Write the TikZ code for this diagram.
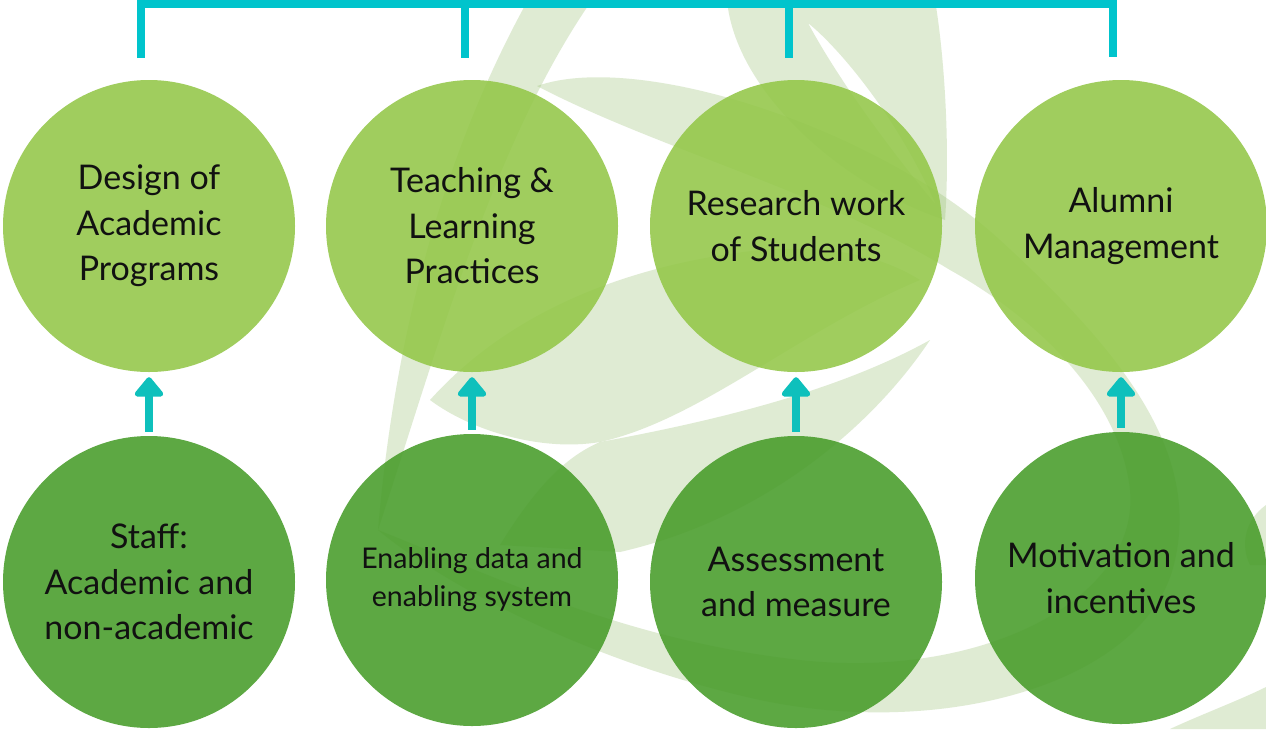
\documentclass[tikz,border=0pt]{standalone}
\usepackage{fontspec}
\setmainfont{Lato}
\usetikzlibrary{arrows.meta}

\definecolor{topgreen}{RGB}{147,199,72}
\definecolor{botgreen}{RGB}{71,156,41}
\definecolor{bracketteal}{RGB}{0,196,204}
\definecolor{arrowteal}{RGB}{14,192,188}
\definecolor{leafband}{RGB}{150,190,110}
\definecolor{inktext}{RGB}{17,17,17}

\tikzset{
  disc/.style={circle, minimum size=292pt, inner sep=0pt, align=center,
    fill opacity=0.88, text opacity=1, text=inktext},
  upper/.style={disc, fill=topgreen, font=\fontsize{34}{45.5}\selectfont},
  lower/.style={disc, fill=botgreen, font=\fontsize{34}{45.5}\selectfont},
  lowersmall/.style={disc, fill=botgreen, font=\fontsize{28.5}{38}\selectfont},
  bracket/.style={draw=bracketteal, line width=7.5pt, line join=miter, line cap=butt},
  uparrow/.style={draw=arrowteal, line width=7.5pt,
    -{Triangle[width=33pt,length=21pt,round]}},
  band/.style={fill=leafband, fill opacity=0.3},
}

\begin{document}
\begin{tikzpicture}[x=1pt,y=-1pt]
\useasboundingbox (0,0) rectangle (1266,729);
\fill[white] (0,0) rectangle (1266,729);

% swirling leaf ribbons in the background
\fill[band] (528,0) .. controls (445,150) and (395,330) .. (378,530)
  .. controls (440,340) and (495,140) .. (592,0) -- cycle;
\fill[band, even odd rule]
  (727,0) .. controls (735,90) and (840,185) .. (945,220)
  .. controls (950,150) and (945,60) .. (935,0) -- cycle
  (808,23) .. controls (838,47) and (897,116) .. (936,205)
  .. controls (890,150) and (838,79) .. (808,23) -- cycle;
\fill[band] (537,86) .. controls (640,50) and (880,130) .. (1000,240)
  .. controls (1120,350) and (1200,450) .. (1175,560)
  .. controls (1150,680) and (950,740) .. (760,700)
  .. controls (600,665) and (450,590) .. (378,530)
  .. controls (480,570) and (620,640) .. (800,660)
  .. controls (980,680) and (1140,600) .. (1130,490)
  .. controls (1120,400) and (1040,320) .. (950,270)
  .. controls (820,190) and (660,150) .. (537,86) -- cycle;
\fill[band] (430,400) .. controls (520,300) and (650,262) .. (760,250)
  .. controls (830,245) and (880,255) .. (920,280)
  .. controls (800,330) and (700,420) .. (600,442)
  .. controls (540,452) and (470,430) .. (430,400) -- cycle;
\fill[band] (600,442) .. controls (720,420) and (840,390) .. (930,340)
  .. controls (870,430) and (760,520) .. (620,552)
  -- (500,545) .. controls (540,480) and (570,455) .. (600,442) -- cycle;
\fill[band] (1170,729) .. controls (1200,715) and (1240,700) .. (1266,687)
  -- (1266,729) -- cycle;
\fill[band] (1266,505) .. controls (1245,520) and (1240,545) .. (1250,565)
  -- (1266,565) -- cycle;

% upper row
\node[upper] (t1) at (149,226) {Design of\\Academic\\Programs};
\node[upper] (t2) at (472,226) {Teaching \&\\Learning\\Practices};
\node[upper] (t3) at (796,226) {Research work\\of Students};
\node[upper] (t4) at (1121,226) {Alumni\\Management};

% lower row
\node[lower] (b1) at (149,582) {Staff:\\Academic and\\non-academic};
\node[lowersmall] (b2) at (472,580) {Enabling data and\\enabling system};
\node[lower] (b3) at (796,582) {Assessment\\and measure};
\node[lower] (b4) at (1121,578) {Motivation and\\incentives};

% bracket joining the upper row
\coordinate (j1) at (141,3.75);
\coordinate (j2) at (465,3.75);
\coordinate (j3) at (789,3.75);
\coordinate (j4) at (1113,3.75);
\coordinate (k1) at (141,58);
\coordinate (k2) at (465,58);
\coordinate (k3) at (789,58);
\coordinate (k4) at (1113,57);
\draw[bracket] (k1) -- (j1) -- (j4) -- (k4);
\draw[bracket] (j2) -- (k2);
\draw[bracket] (j3) -- (k3);

% arrows from the lower row up to the upper row
\draw[uparrow] ([yshift=4pt]b1.north) -- ([yshift=-5pt]t1.south);
\draw[uparrow] ([yshift=4pt]b2.north) -- ([yshift=-5pt]t2.south);
\draw[uparrow] ([yshift=4pt]b3.north) -- ([yshift=-5pt]t3.south);
\draw[uparrow] ([yshift=4pt]b4.north) -- ([yshift=-5pt]t4.south);
\end{tikzpicture}
\end{document}
